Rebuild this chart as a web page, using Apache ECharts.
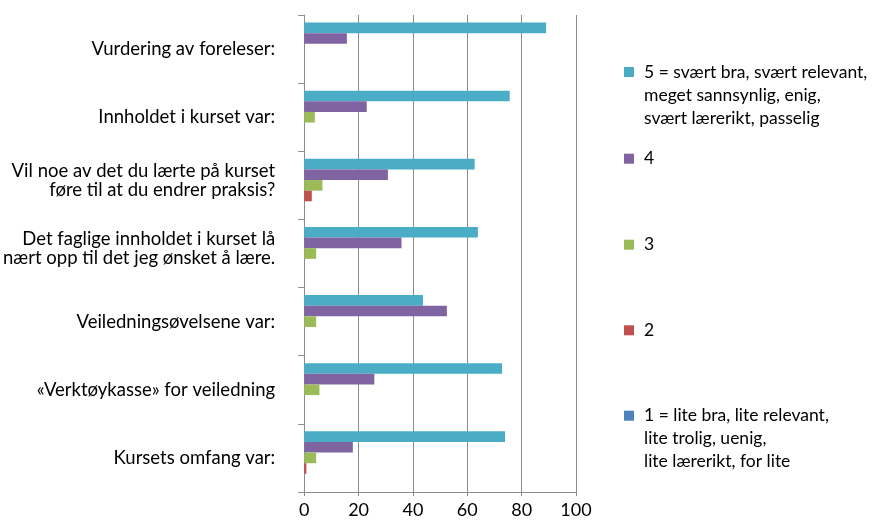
<!DOCTYPE html>
<html>
<head>
<meta charset="utf-8">
<script src="https://cdn.jsdelivr.net/npm/echarts@6/dist/echarts.min.js"></script>
<style>
html, body { margin: 0; padding: 0; background: #fff; }
#chart { width: 874px; height: 521px; }
</style>
</head>
<body>
<div id="chart"></div>
<script>
// kategorier (ovenfra og ned)
var categories = [
	'Vurdering av foreleser:',
	'Innholdet i kurset var:',
	'Vil noe av det du lærte på kurset\nføre til at du endrer praksis?',
	'Det faglige innholdet i kurset lå\nnært opp til det jeg ønsket å lære.',
	'Veiledningsøvelsene var:',
	'«Verktøykasse» for veiledning',
	'Kursets omfang var:'
];
var seriesNames = ['5', '4', '3', '2', '1'];
var legendLabels = [
	'5 = svært bra, svært relevant,\nmeget sannsynlig, enig,\nsvært lærerikt, passelig',
	'4',
	'3',
	'2',
	'1 = lite bra, lite relevant,\nlite trolig, uenig,\nlite lærerikt, for lite'
];
var values5 = [89, 75.6, 62.7, 63.9, 43.7, 72.8, 73.9];
var values4 = [15.7, 23, 30.8, 35.8, 52.5, 25.8, 17.9];
var values3 = [0, 3.9, 6.7, 4.4, 4.4, 5.6, 4.4];
var values2 = [0, 0, 2.8, 0, 0, 0, 0.8];
var values1 = [0, 0, 0, 0, 0, 0, 0];
var xTicks = [0, 20, 40, 60, 80, 100];
var colors = ['#4BACC6', '#8064A2', '#9BBB59', '#C0504D', '#4F81BD'];

var font = 'Lato';
var allValues = [values5, values4, values3, values2, values1];

var myChart = echarts.init(document.getElementById('chart'));

var series = [];
for (let i = 0; i < seriesNames.length; i++) {
	series.push({
		name: seriesNames[i],
		type: 'bar',
		barGap: '0%',
		barCategoryGap: '22%',
		itemStyle: { color: colors[i] },
		data: allValues[i]
	});
}

// en legend per serie, ikonet skal stå ved første linje
var legendCenters = [72, 158.7, 244.7, 330.3, 415.7];
var legends = [];
for (let i = 0; i < seriesNames.length; i++) {
	let lines = legendLabels[i].split('\n');
	// tomme linjer foran så første linje havner midt på ikonet
	let label = new Array(lines.length).join('\n') + lines.map(function (s) { return '{t|' + s + '}'; }).join('\n');
	let h = (2 * lines.length - 1) * 23;
	legends.push({
		data: [seriesNames[i]],
		orient: 'vertical',
		left: 624,
		top: legendCenters[i] - h / 2,
		padding: 0,
		itemWidth: 10,
		itemHeight: 10,
		itemGap: 0,
		icon: 'rect',
		selectedMode: false,
		formatter: function () { return label; },
		textStyle: {
			fontFamily: font,
			fontSize: 17.5,
			lineHeight: 23,
			color: '#000',
			rich: {
				t: { fontFamily: font, fontSize: 17.5, lineHeight: 23, color: '#000', padding: [0, 0, 0, 5] }
			}
		}
	});
}

var option = {
	animation: false,
	backgroundColor: '#fff',
	color: colors,
	legend: legends,
	grid: {
		left: 304,
		right: 298,
		top: 15,
		bottom: 29,
		containLabel: false
	},
	xAxis: {
		type: 'value',
		min: 0,
		max: 100,
		interval: 20,
		axisLine: { show: true, lineStyle: { color: '#8c8c8c', width: 1 } },
		axisTick: { show: true, length: 4, lineStyle: { color: '#8c8c8c' } },
		axisLabel: {
			margin: 9,
			fontFamily: font,
			fontSize: 18,
			color: '#000',
			formatter: function (v) { return xTicks.indexOf(v) >= 0 ? String(v) : ''; }
		},
		splitLine: { show: true, lineStyle: { color: '#8c8c8c', width: 1 } }
	},
	yAxis: {
		type: 'category',
		inverse: true,
		data: categories,
		axisLine: { show: true, lineStyle: { color: '#8c8c8c', width: 1 } },
		axisTick: { show: true, length: 6, lineStyle: { color: '#8c8c8c' } },
		axisLabel: {
			margin: 29,
			fontFamily: font,
			fontSize: 18.5,
			lineHeight: 19,
			color: '#000',
			// to-linjers etiketter står litt over midten som i originalen
			formatter: function (v) { return v.indexOf('\n') >= 0 ? v + '\n{s| }' : v; },
			rich: {
				s: { fontSize: 1, lineHeight: 9 }
			}
		}
	},
	series: series
};
myChart.setOption(option);
</script>
</body>
</html>
